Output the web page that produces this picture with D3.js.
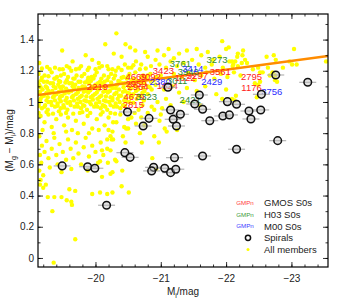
<!DOCTYPE html>
<html>
<head>
<meta charset="utf-8">
<script src="https://cdn.jsdelivr.net/npm/d3@7"></script>
<style>
body { margin: 0; background: #fff; }
svg text { font-family: "Liberation Sans", Arial, Helvetica, sans-serif; }
</style>
</head>
<body>
<div id="chart"></div>
<script>
// ---- data: [M_i, M_g - M_i] ----
// dense red-sequence band of all members
const coreMembers = [
  [-19.13,1.18],[-19.22,1.17],[-19.33,1.19],[-19.41,1.16],[-19.52,1.18],[-19.63,1.20],[-19.71,1.17],[-19.83,1.18],[-19.94,1.16],[-20.02,1.19],[-20.13,1.17],[-20.24,1.18],[-20.31,1.20],[-20.43,1.16],[-20.52,1.18],[-20.61,1.19],[-20.73,1.17],[-20.84,1.18],[-20.93,1.16],
  [-19.17,1.14],[-19.26,1.13],[-19.37,1.15],[-19.46,1.13],[-19.56,1.14],[-19.66,1.15],[-19.77,1.13],[-19.88,1.14],[-19.97,1.15],[-20.07,1.13],[-20.18,1.14],[-20.28,1.15],[-20.37,1.13],[-20.48,1.15],[-20.56,1.14],[-20.67,1.13],[-20.78,1.15],[-20.89,1.14],
  [-19.14,1.11],[-19.24,1.10],[-19.31,1.12],[-19.43,1.11],[-19.50,1.10],[-19.60,1.12],[-19.69,1.11],[-19.80,1.10],[-19.90,1.12],[-20.00,1.11],[-20.10,1.12],[-20.21,1.10],[-20.33,1.11],[-20.41,1.12],[-20.51,1.10],[-20.60,1.11],[-20.71,1.12],[-20.81,1.10],[-20.92,1.11],
  [-19.19,1.08],[-19.28,1.07],[-19.39,1.09],[-19.48,1.08],[-19.58,1.07],[-19.67,1.09],[-19.76,1.08],[-19.86,1.07],[-19.96,1.09],[-20.05,1.08],[-20.16,1.07],[-20.26,1.09],[-20.36,1.08],[-20.45,1.07],[-20.55,1.09],[-20.65,1.08],[-20.75,1.07],[-20.86,1.08],
  [-19.12,1.05],[-19.21,1.04],[-19.30,1.06],[-19.40,1.05],[-19.49,1.04],[-19.59,1.06],[-19.70,1.05],[-19.79,1.04],[-19.89,1.06],[-19.99,1.05],[-20.09,1.04],[-20.19,1.06],[-20.29,1.05],[-20.39,1.04],[-20.49,1.06],[-20.58,1.05],[-20.69,1.04],[-20.80,1.05],
  [-19.16,1.02],[-19.25,1.01],[-19.35,1.03],[-19.45,1.02],[-19.54,1.01],[-19.64,1.03],[-19.73,1.02],[-19.83,1.01],[-19.93,1.03],[-20.03,1.02],[-20.13,1.01],[-20.23,1.03],[-20.34,1.02],[-20.44,1.01],[-20.54,1.03],[-20.63,1.02],[-20.74,1.01],
  [-19.13,0.99],[-19.23,0.98],[-19.32,1.00],[-19.42,0.99],[-19.51,0.98],[-19.61,1.00],[-19.72,0.99],[-19.81,0.98],[-19.91,1.00],[-20.01,0.99],[-20.11,0.98],[-20.21,1.00],[-20.31,0.99],[-20.42,0.98],[-20.52,1.00],
  [-19.18,0.96],[-19.27,0.95],[-19.38,0.97],[-19.47,0.96],[-19.57,0.95],[-19.68,0.97],[-19.78,0.96],[-19.87,0.95],[-19.98,0.97],[-20.08,0.96],[-20.18,0.95],[-20.28,0.97],[-20.38,0.96]
];
// more members filling the band
const coreMembers2 = [
  [-19.18,1.155],[-19.28,1.165],[-19.38,1.150],[-19.47,1.170],[-19.58,1.160],[-19.68,1.150],[-19.79,1.165],[-19.89,1.155],[-19.99,1.170],[-20.09,1.150],[-20.20,1.160],[-20.30,1.170],[-20.40,1.155],[-20.50,1.165],[-20.59,1.150],[-20.70,1.160],[-20.80,1.170],
  [-19.12,1.125],[-19.21,1.130],[-19.35,1.120],[-19.44,1.135],[-19.54,1.125],[-19.64,1.120],[-19.74,1.130],[-19.84,1.125],[-19.93,1.135],[-20.04,1.120],[-20.14,1.130],[-20.24,1.125],[-20.35,1.135],[-20.45,1.120],[-20.54,1.125],[-20.64,1.135],[-20.75,1.120],[-20.85,1.130],
  [-19.16,1.095],[-19.26,1.090],[-19.36,1.100],[-19.46,1.095],[-19.55,1.085],[-19.65,1.100],[-19.74,1.090],[-19.84,1.095],[-19.94,1.100],[-20.03,1.085],[-20.13,1.095],[-20.24,1.100],[-20.31,1.090],[-20.43,1.095],[-20.53,1.085],[-20.62,1.100],[-20.73,1.090],[-20.83,1.095],
  [-19.15,1.065],[-19.25,1.060],[-19.34,1.070],[-19.44,1.065],[-19.53,1.055],[-19.63,1.070],[-19.73,1.060],[-19.82,1.065],[-19.92,1.075],[-20.02,1.060],[-20.12,1.065],[-20.22,1.070],[-20.32,1.060],[-20.42,1.065],[-20.52,1.055],[-20.62,1.070],[-20.72,1.060],
  [-19.18,1.035],[-19.27,1.030],[-19.37,1.040],[-19.46,1.035],[-19.56,1.025],[-19.66,1.040],[-19.76,1.030],[-19.86,1.035],[-19.96,1.040],[-20.06,1.030],[-20.16,1.035],[-20.26,1.025],[-20.36,1.040],[-20.46,1.030],[-20.56,1.035],[-20.66,1.040],
  [-19.15,1.005],[-19.28,1.000],[-19.38,1.010],[-19.47,1.005],[-19.57,0.995],[-19.67,1.010],[-19.77,1.000],[-19.86,1.005],[-19.96,1.015],[-20.06,1.000],[-20.16,1.005],[-20.26,1.010],[-20.37,1.000],[-20.47,1.005],[-20.58,0.995],
  [-19.13,0.975],[-19.22,0.970],[-19.33,0.980],[-19.42,0.975],[-19.52,0.965],[-19.62,0.980],[-19.73,0.970],[-19.83,0.975],[-19.93,0.985],[-20.03,0.970],[-20.13,0.975],[-20.23,0.980],[-20.33,0.970],[-20.45,0.975],
  [-19.13,0.930],[-19.25,0.935],[-19.35,0.925],[-19.44,0.940],[-19.55,0.930],[-19.66,0.925],[-19.80,0.935],[-19.92,0.930],[-20.11,0.935],[-20.30,0.925],
  [-19.18,1.215],[-19.26,1.225],[-19.45,1.210],[-19.56,1.230],[-19.75,1.215],[-19.88,1.205],[-20.06,1.220],[-20.18,1.230],[-20.26,1.210],[-20.40,1.205],[-20.50,1.220],[-20.58,1.235],[-20.77,1.215]
];
// redder scatter above the band
const upperMembers = [
  [-19.14,1.25],[-19.49,1.33],[-20.32,1.44],[-20.15,1.37],[-20.46,1.37],[-20.53,1.35],[-20.61,1.33],[-20.76,1.32],[-20.80,1.29],[-20.40,1.29],
  [-19.95,1.27],[-20.05,1.25],[-19.30,1.21],[-19.38,1.22],[-19.50,1.21],[-19.60,1.22],[-19.70,1.21],[-19.78,1.23],[-19.90,1.22],[-20.00,1.21],
  [-20.10,1.23],[-20.20,1.21],[-20.35,1.22],[-20.45,1.24],[-20.55,1.22],[-20.62,1.26],[-20.70,1.24],[-20.85,1.23],[-20.92,1.27],[-19.85,1.30],
  [-20.28,1.31],[-19.65,1.26],[-20.68,1.21]
];
// bluer scatter of the faint members
const lowerMembers = [
  [-19.16,0.91],[-19.22,0.87],[-19.28,0.92],[-19.33,0.84],[-19.40,0.89],[-19.47,0.92],[-19.52,0.85],[-19.58,0.90],[-19.64,0.82],[-19.70,0.88],
  [-19.76,0.93],[-19.82,0.86],[-19.88,0.91],[-19.95,0.83],[-20.02,0.89],[-20.08,0.92],[-20.14,0.85],[-20.20,0.90],[-20.26,0.81],[-20.32,0.87],
  [-20.38,0.92],[-20.44,0.84],[-20.50,0.89],[-19.19,0.82],[-19.36,0.80],[-19.55,0.81],[-19.73,0.80],[-19.90,0.80],[-20.05,0.82],[-20.60,0.93],
  [-20.70,0.90],[-20.75,0.85],[-20.90,0.95],[-21.00,0.92],
  [-19.14,0.78],[-19.18,0.72],[-19.15,0.66],[-19.17,0.61],[-19.14,0.56],[-19.20,0.53],[-19.16,0.50],[-19.22,0.68],[-19.25,0.75],[-19.28,0.64],
  [-19.30,0.58],[-19.33,0.70],[-19.37,0.77],[-19.40,0.66],[-19.42,0.60],[-19.45,0.73],[-19.50,0.68],[-19.55,0.63],[-19.58,0.76],[-19.62,0.70],
  [-19.66,0.64],[-19.70,0.74],[-19.74,0.67],[-19.78,0.60],[-19.82,0.71],[-19.85,0.77],[-19.90,0.65],[-19.95,0.72],[-20.00,0.68],[-20.04,0.61],
  [-20.08,0.74],[-20.12,0.66],[-20.18,0.70],[-20.25,0.76],[-20.30,0.63],[-19.48,0.55],[-19.63,0.57],[-19.88,0.56],[-20.10,0.52],[-19.24,0.47],
  [-19.15,0.47],[-19.20,0.45],[-19.27,0.39],[-19.37,0.39],[-19.48,0.39],[-19.56,0.37],[-19.63,0.36],[-19.64,0.34],[-19.60,0.44],[-19.69,0.43],
  [-19.95,0.41],[-20.07,0.42],[-20.18,0.41],[-20.26,0.42],[-19.34,0.30],[-19.69,0.12],[-19.36,-0.03],
  [-20.07,0.62],[-20.10,0.69],[-20.23,0.69],[-20.32,0.62],[-20.19,0.61],[-20.26,0.55],[-20.23,0.54],[-20.41,0.56],[-20.40,0.46],[-20.51,0.42],
  [-20.23,0.78],[-20.47,0.83],[-20.68,0.80],[-20.71,0.74],[-20.90,0.78],[-20.97,0.74],[-21.06,0.83],[-21.09,0.81],[-20.87,0.64],[-20.93,0.57],[-21.25,0.82],
  [-20.15,0.97],[-20.23,0.93],[-20.27,0.87],[-20.20,0.82],[-20.18,0.76],[-20.27,0.76],[-20.42,0.78],[-20.46,0.74],[-20.50,0.83],[-20.55,0.90],
  [-20.62,0.86],[-20.66,0.95],[-20.72,0.98],[-20.80,0.93],[-20.86,0.97],[-20.95,1.00],[-21.02,0.96],[-21.08,1.02],[-20.98,0.88],[-21.15,0.98]
];
// bright members
const brightMembers = [
  [-20.95,1.33],[-21.05,1.30],[-21.12,1.34],[-21.20,1.28],[-21.28,1.31],[-21.40,1.33],[-21.55,1.34],[-21.62,1.30],[-21.72,1.32],[-21.80,1.27],
  [-21.90,1.29],[-22.00,1.34],[-22.05,1.26],[-20.98,1.24],[-21.08,1.22],[-21.15,1.26],[-21.25,1.23],[-21.35,1.25],[-21.48,1.27],[-21.58,1.24],
  [-21.68,1.22],[-21.78,1.24],[-21.95,1.22],[-22.10,1.23],[-22.25,1.30],[-21.00,1.17],[-21.10,1.15],[-21.20,1.18],[-21.32,1.16],[-21.42,1.19],
  [-21.52,1.14],[-21.62,1.17],[-21.70,1.19],[-21.82,1.15],[-21.92,1.18],[-22.02,1.16],[-22.12,1.19],[-22.22,1.17],[-21.05,1.08],[-21.18,1.10],
  [-21.28,1.06],[-21.40,1.09],[-21.55,1.07],[-21.68,1.10],[-21.85,1.05],[-22.00,1.08],[-22.15,1.04],[-21.94,1.02],[-22.09,1.02],[-22.13,1.01],
  [-21.35,1.00],[-21.60,0.98],
  [-22.04,1.35],[-21.94,1.39],[-22.18,1.31],[-22.26,1.33],[-22.17,1.29],[-22.09,1.26],[-22.11,1.24],[-22.14,1.26],[-22.18,1.23],[-22.24,1.25],
  [-22.29,1.27],[-22.32,1.25],
  [-22.62,1.29],[-22.73,1.30],[-22.76,1.27],[-23.04,1.34],[-22.87,1.22],[-22.97,1.26],[-23.01,1.24],[-22.64,1.22],[-22.71,1.19],[-22.75,1.17],
  [-22.41,1.21],[-22.49,1.22],[-22.52,1.19],[-22.56,1.19],[-22.44,1.12],[-22.49,1.11],[-22.52,1.13],[-22.67,1.17],[-22.75,1.14],[-22.78,1.13],
  [-22.47,1.03],[-23.53,1.26],[-23.08,1.24]
];
const members = coreMembers.concat(coreMembers2, upperMembers, lowerMembers, brightMembers);

// spirals
const spirals = [
  [-21.11,1.094],[-21.59,1.045],[-21.52,0.987],[-21.64,0.953],[-22.02,1.002],[-20.49,0.936],[-20.82,0.895],[-20.73,0.846],
  [-21.15,0.949],[-21.19,0.889],[-21.30,0.921],[-21.24,0.846],[-21.75,0.880],[-21.95,0.910],[-22.05,0.917],
  [-22.76,1.173],[-23.25,1.126],[-22.54,1.049],[-22.16,0.985],[-22.35,0.942],[-22.53,0.949],[-22.38,0.891],
  [-22.16,0.697],[-22.79,0.752],
  [-20.45,0.675],[-20.53,0.645],[-21.21,0.643],[-21.64,0.654],[-20.89,0.581],[-20.86,0.558],[-21.06,0.575],[-21.15,0.547],[-21.23,0.569],
  [-20.17,0.338],[-19.49,0.590],[-19.88,0.585],[-19.99,0.575]
];
const spiralErr = 0.13;

// labelled S0s: [GMPn, M_i, colour]
const gmosS0 = [
  ["2219",-20.03,1.096],["3423",-21.04,1.199],["3561",-21.91,1.192],["4669",-20.62,1.160],["3092",-20.84,1.160],
  ["2959",-20.62,1.115],["2964",-20.65,1.096],["4679",-20.59,1.032],["2815",-20.58,0.981],["1624",-21.10,1.103],
  ["1622",-21.37,1.154],["3297",-21.56,1.167],["2795",-22.39,1.160],["1176",-22.39,1.090]
];
const h03S0 = [
  ["3323",-20.78,1.032],["3761",-21.30,1.244],["3940",-21.42,1.192],["3011",-21.25,1.135],["3273",-21.86,1.269],["2421",-21.45,1.013]
];
const m00S0 = [
  ["2380",-20.99,1.128],["3414",-21.49,1.212],["2429",-21.78,1.128],["3756",-22.70,1.064]
];

// colour-magnitude relation fit
const fitMag = [-19.12, -23.56];
const fitCol = [1.045, 1.295];

const xMajor = [-20, -21, -22, -23];
const xTickLabels = ["\u221220", "\u221221", "\u221222", "\u221223"];
const yMajor = [0, 0.2, 0.4, 0.6, 0.8, 1.0, 1.2, 1.4];
const yTickLabels = ["0", "0.2", "0.4", "0.6", "0.8", "1", "1.2", "1.4"];

// ---- layout ----
const width = 354, height = 299;
const margin = { top: 14, right: 26, bottom: 32, left: 38 };
const w = width - margin.left - margin.right;
const h = height - margin.top - margin.bottom;

const svg = d3.select("#chart").append("svg")
  .attr("width", width).attr("height", height);

svg.append("rect").attr("width", width).attr("height", height).attr("fill", "#fff");

const g = svg.append("g")
  .attr("transform", "translate(" + margin.left + "," + margin.top + ")");

const x = d3.scaleLinear().domain([-19.12, -23.56]).range([0, w]);
const y = d3.scaleLinear().domain([-0.058, 1.564]).range([h, 0]);

g.append("clipPath").attr("id", "plotclip")
  .append("rect").attr("width", w).attr("height", h);

const plot = g.append("g").attr("clip-path", "url(#plotclip)");

// all members
plot.append("g").selectAll("circle")
  .data(members)
  .join("circle")
  .attr("cx", d => x(d[0]))
  .attr("cy", d => y(d[1]))
  .attr("r", 2.2)
  .attr("fill", "#ffff00");

// fit line
plot.append("line")
  .attr("x1", x(fitMag[0])).attr("y1", y(fitCol[0]))
  .attr("x2", x(fitMag[1])).attr("y2", y(fitCol[1]))
  .attr("stroke", "#ff8c00")
  .attr("stroke-width", 2.5);

// S0 labels
function drawLabels(list, colour) {
  plot.append("g").selectAll("text")
    .data(list)
    .join("text")
    .attr("x", d => x(d[1]))
    .attr("y", d => y(d[2]))
    .attr("dy", "0.35em")
    .attr("text-anchor", "middle")
    .attr("font-size", 9.5)
    .attr("fill", colour)
    .text(d => d[0]);
}
drawLabels(gmosS0, "#ff1a1a");
drawLabels(h03S0, "#2e8b2e");
drawLabels(m00S0, "#2b2bff");

// spirals with error bars
const sp = plot.append("g");
sp.selectAll("line")
  .data(spirals)
  .join("line")
  .attr("x1", d => x(d[0] + spiralErr))
  .attr("x2", d => x(d[0] - spiralErr))
  .attr("y1", d => y(d[1]))
  .attr("y2", d => y(d[1]))
  .attr("stroke", "#b4b4b4")
  .attr("stroke-width", 1.2);
sp.selectAll("circle")
  .data(spirals)
  .join("circle")
  .attr("cx", d => x(d[0]))
  .attr("cy", d => y(d[1]))
  .attr("r", 3.8)
  .attr("fill", "rgba(190,190,190,0.45)")
  .attr("stroke", "#111")
  .attr("stroke-width", 1.5);

// ---- axes (ticks inward on all four sides) ----
const xMinor = d3.range(-19.2, -23.5, -0.2);
const yMinor = d3.range(0, 1.55, 0.1);

function styleAxis(sel) {
  sel.select(".domain").remove();
  sel.selectAll("line").attr("stroke", "#000").attr("stroke-width", 0.8);
  sel.selectAll("text").attr("font-size", 10).attr("fill", "#222")
    .attr("font-family", "'Liberation Sans', Arial, sans-serif");
}

g.append("g").attr("transform", "translate(0," + h + ")")
  .call(d3.axisBottom(x).tickValues(xMinor).tickFormat("").tickSize(-2.5)).call(styleAxis);
g.append("g").attr("transform", "translate(0," + h + ")")
  .call(d3.axisBottom(x).tickValues(xMajor).tickFormat((d, i) => xTickLabels[i]).tickSize(-5).tickPadding(8)).call(styleAxis);
g.append("g")
  .call(d3.axisTop(x).tickValues(xMinor).tickFormat("").tickSize(-2.5)).call(styleAxis);
g.append("g")
  .call(d3.axisTop(x).tickValues(xMajor).tickFormat("").tickSize(-5)).call(styleAxis);

g.append("g")
  .call(d3.axisLeft(y).tickValues(yMinor).tickFormat("").tickSize(-2.5)).call(styleAxis);
g.append("g")
  .call(d3.axisLeft(y).tickValues(yMajor).tickFormat((d, i) => yTickLabels[i]).tickSize(-5).tickPadding(4)).call(styleAxis);
g.append("g").attr("transform", "translate(" + w + ",0)")
  .call(d3.axisRight(y).tickValues(yMinor).tickFormat("").tickSize(-2.5)).call(styleAxis);
g.append("g").attr("transform", "translate(" + w + ",0)")
  .call(d3.axisRight(y).tickValues(yMajor).tickFormat("").tickSize(-5)).call(styleAxis);

g.append("rect")
  .attr("width", w).attr("height", h)
  .attr("fill", "none").attr("stroke", "#000").attr("stroke-width", 1.2);

// axis titles
const xt = g.append("text")
  .attr("x", w / 2).attr("y", h + 28)
  .attr("text-anchor", "middle").attr("font-size", 10).attr("fill", "#222");
xt.append("tspan").text("M");
xt.append("tspan").attr("font-size", 7).attr("dy", 2.5).text("i");
xt.append("tspan").attr("dy", -2.5).text("/mag");

const yt = g.append("text")
  .attr("transform", "translate(" + (-25) + "," + (h / 2) + ") rotate(-90)")
  .attr("text-anchor", "middle").attr("font-size", 10).attr("fill", "#222");
yt.append("tspan").text("(M");
yt.append("tspan").attr("font-size", 7).attr("dy", 2.5).text("g");
yt.append("tspan").attr("dy", -2.5).text(" \u2212 M");
yt.append("tspan").attr("font-size", 7).attr("dy", 2.5).text("i");
yt.append("tspan").attr("dy", -2.5).text(")/mag");

// ---- legend ----
const legendRows = [
  { key: "GMPn", colour: "#ff3b3b", text: "GMOS S0s" },
  { key: "GMPn", colour: "#3a9a3a", text: "H03 S0s" },
  { key: "GMPn", colour: "#3b3bff", text: "M00 S0s" },
  { key: "spiral", text: "Spirals" },
  { key: "member", text: "All members" }
];
const legend = svg.append("g").attr("transform", "translate(245,203)");
legendRows.forEach(function(row, i) {
  const ly = i * 11.6;
  if (row.key === "GMPn") {
    legend.append("text").attr("x", 0).attr("y", ly).attr("dy", "0.35em")
      .attr("text-anchor", "middle").attr("font-size", 6.2).attr("fill", row.colour).text("GMPn");
  } else if (row.key === "spiral") {
    legend.append("circle").attr("cx", 3).attr("cy", ly).attr("r", 2.6)
      .attr("fill", "none").attr("stroke", "#111").attr("stroke-width", 1.5);
  } else {
    legend.append("circle").attr("cx", 3).attr("cy", ly).attr("r", 1.5).attr("fill", "#ffff00");
  }
  legend.append("text").attr("x", 19).attr("y", ly).attr("dy", "0.35em")
    .attr("font-size", 9.5).attr("fill", "#222").text(row.text);
});
</script>
</body>
</html>
